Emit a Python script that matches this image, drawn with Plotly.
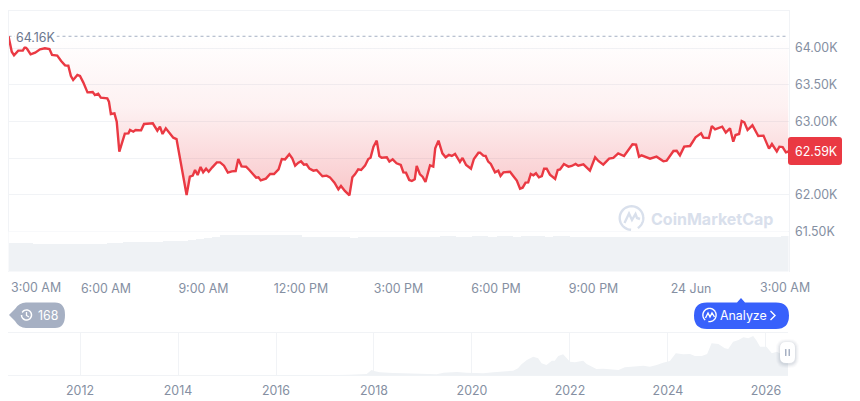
import math
import plotly.graph_objects as go

W, H = 860, 401

# Intraday price: hours after 3:00 AM and price in thousands of USD
hours = [
    0.00, 0.10, 0.17, 0.30, 0.44, 0.51, 0.58, 0.68, 0.82, 0.97, 1.12, 1.26, 1.34, 1.50, 1.62, 1.74, 1.84, 1.92, 1.99, 2.12,
    2.20, 2.30, 2.43, 2.59, 2.66, 2.76, 2.84, 3.04, 3.09, 3.15, 3.26, 3.33, 3.41, 3.58, 3.69, 3.74, 3.84, 3.91, 4.08, 4.17,
    4.44, 4.58, 4.66, 4.74, 4.84, 4.97, 5.07, 5.17, 5.33, 5.48, 5.58, 5.67, 5.74, 5.82, 5.91, 5.99, 6.08, 6.16, 6.27, 6.41,
    6.51, 6.63, 6.75, 6.87, 6.99, 7.07, 7.17, 7.31, 7.41, 7.53, 7.62, 7.69, 7.76, 7.92, 8.05, 8.17, 8.31,
    8.41, 8.51, 8.64, 8.73, 8.82, 8.92, 9.00, 9.09, 9.17, 9.26, 9.38, 9.48, 9.66, 9.79, 9.89, 10.03, 10.15, 10.23, 10.35, 10.49,
    10.58, 10.66, 10.76, 10.85, 10.97, 11.07, 11.14, 11.23, 11.33, 11.41, 11.48, 11.64, 11.72, 11.82, 11.94, 12.07, 12.15, 12.23, 12.33, 12.41,
    12.50, 12.56, 12.66, 12.74, 12.83, 12.97, 13.07, 13.13, 13.23, 13.35, 13.45, 13.55, 13.64, 13.74, 13.89, 13.97, 14.08, 14.23, 14.32, 14.46,
    14.51, 14.61, 14.68, 14.76, 14.84, 14.97, 15.07, 15.14, 15.23, 15.43, 15.53, 15.64, 15.74, 15.82, 15.91, 15.99, 16.07, 16.15, 16.23, 16.32,
    16.41, 16.48, 16.56, 16.66, 16.82, 16.90, 16.97,
    17.09, 17.23, 17.33, 17.45, 17.53, 17.69, 17.89, 18.05, 18.15, 18.30, 18.48, 18.61, 18.76, 18.94, 19.20, 19.31, 19.40, 19.48, 19.74, 19.94,
    20.15, 20.25, 20.46, 20.56, 20.66, 20.79, 20.97, 21.14, 21.31, 21.38, 21.55, 21.64, 21.74, 21.96, 22.07, 22.20, 22.30, 22.37, 22.48, 22.56,
    22.64, 22.74, 22.89, 23.07, 23.23, 23.40, 23.49, 23.64, 23.72, 23.82, 23.92, 24.00,
]
price = [
    64.16, 63.950, 63.900, 63.964, 63.964, 64.018, 63.982, 63.914, 63.937, 63.982, 63.996, 63.987, 63.905, 63.896, 63.823, 63.764, 63.759, 63.619, 63.564, 63.632,
    63.619, 63.532, 63.396, 63.401, 63.360, 63.378, 63.323, 63.314, 63.269, 63.101, 63.110, 62.996, 62.588, 62.833, 62.837, 62.883, 62.860, 62.883, 62.878, 62.965,
    62.974, 62.874, 62.928, 62.828, 62.906, 62.828, 62.778, 62.760, 62.338, 61.997, 62.247, 62.261, 62.338, 62.270, 62.379, 62.306, 62.356, 62.315, 62.374, 62.442,
    62.442, 62.397, 62.302, 62.320, 62.324, 62.488, 62.388, 62.383, 62.338, 62.270, 62.234, 62.238, 62.197, 62.220, 62.283, 62.283, 62.347,
    62.488, 62.483, 62.552, 62.497, 62.397, 62.438, 62.456, 62.411, 62.415, 62.356, 62.329, 62.338, 62.252, 62.261, 62.238, 62.166, 62.075, 62.120, 62.052, 61.993,
    62.238, 62.279, 62.347, 62.338, 62.397, 62.488, 62.506, 62.656, 62.738, 62.529, 62.506, 62.511, 62.452, 62.483, 62.429, 62.406, 62.306, 62.302, 62.202, 62.188,
    62.211, 62.393, 62.279, 62.247, 62.175, 62.402, 62.384, 62.633, 62.738, 62.565, 62.511, 62.543, 62.529, 62.556, 62.447, 62.502, 62.406, 62.356, 62.488, 62.574,
    62.574, 62.533, 62.529, 62.452, 62.420, 62.306, 62.329, 62.256, 62.306, 62.315, 62.256, 62.193, 62.084, 62.097, 62.166, 62.170, 62.284, 62.266, 62.293, 62.238,
    62.256, 62.356, 62.356, 62.275, 62.216, 62.338, 62.347,
    62.420, 62.384, 62.393, 62.420, 62.397, 62.415, 62.329, 62.511, 62.461, 62.411, 62.493, 62.502, 62.565, 62.529, 62.688, 62.683, 62.520, 62.538, 62.493, 62.520,
    62.456, 62.465, 62.597, 62.601, 62.538, 62.656, 62.665, 62.783, 62.838, 62.779, 62.774, 62.938, 62.892, 62.929, 62.847, 62.906, 62.724, 62.815, 62.829, 63.006,
    62.988, 62.883, 62.947, 62.801, 62.806, 62.629, 62.692, 62.592, 62.656, 62.651, 62.579, 62.59,
]
open_price = 64.16
last_price = 62.59
shade_floor = 62.0

# Quarter-hour traded volume, one value per bar
volume = [
    29.2, 29.2, 29.2, 28.2, 28.2, 28.2, 28.2, 28.2, 28.2, 28.2, 28.2, 28.2, 29.2, 29.2, 30.2, 30.2,
    30.2, 30.2, 30.2, 31.2, 31.2, 31.2, 32.0, 33.5, 34.2, 35.5, 36.8, 36.8, 36.8, 36.8, 36.8, 36.8,
    36.8, 36.8, 36.8, 36.8, 35.5, 35.5, 35.5, 35.5, 35.5, 35.0, 34.5, 35.5, 35.5, 35.0, 35.5, 35.5,
    35.0, 35.5, 35.5, 35.0, 35.5, 36.0, 36.0, 35.5, 35.5, 36.0, 36.0, 35.5, 36.0, 36.0, 35.5, 36.0,
    36.0, 36.0, 35.5, 36.0, 36.0, 35.5, 35.5, 35.0, 35.5, 35.5, 35.5, 35.0, 35.5, 35.5, 35.5, 35.0,
    35.5, 35.5, 35.5, 35.5, 35.0, 35.5, 35.5, 35.0, 35.5, 35.5, 35.5, 35.5, 35.5, 35.5, 35.5, 36.5,
]

# Full price history: calendar year and price in thousands of USD
history_year = [
    2010.55, 2012.0, 2013.0, 2014.0, 2015.0, 2016.0, 2017.0, 2017.50, 2017.71, 2017.85, 2017.95, 2018.02, 2018.12, 2018.20, 2018.29, 2018.39,
    2018.60, 2018.87, 2018.94, 2019.28, 2019.42, 2019.55, 2019.69, 2019.89, 2020.06, 2020.23, 2020.44, 2020.64, 2020.84, 2020.94, 2021.01,
    2021.12, 2021.25, 2021.35, 2021.42, 2021.52, 2021.63, 2021.69, 2021.76, 2021.86, 2021.93, 2022.00, 2022.10, 2022.27, 2022.34, 2022.44,
    2022.54, 2022.68, 2022.85, 2022.99, 2023.12, 2023.29, 2023.50, 2023.63, 2023.77, 2023.90, 2024.04, 2024.16, 2024.31, 2024.45, 2024.55,
    2024.69, 2024.80, 2024.89, 2025.03, 2025.16, 2025.23, 2025.33, 2025.44, 2025.54, 2025.64, 2025.74, 2025.81, 2025.88, 2026.01, 2026.12,
    2026.22, 2026.35, 2026.45,
]
history_price = [
    0.01, 0.01, 0.1, 0.8, 0.3, 0.4, 1.0, 2.5, 2.6, 4.7, 17.3, 13.1, 10.0, 10.0, 8.9, 7.9,
    6.8, 5.8, 3.7, 3.7, 8.9, 11.0, 11.0, 8.9, 8.9, 6.8, 10.0, 12.0, 15.2, 22.6, 35.2,
    48.8, 59.3, 54.0, 38.3, 33.0, 46.7, 46.7, 61.4, 66.6, 54.0, 43.6, 41.4, 46.7, 36.2, 27.8,
    20.5, 21.5, 18.3, 17.3, 25.7, 27.8, 31.0, 27.8, 33.0, 40.4, 45.6, 69.8, 66.6, 67.7, 61.4,
    61.4, 67.7, 101.3, 99.2, 85.5, 83.4, 106.6, 111.8, 120.2, 117.0, 124.4, 109.7, 90.8, 90.8, 69.8,
    75.0, 64.5, 57.2,
]

price_ticks = [61.5, 62.0, 62.5, 63.0, 63.5, 64.0]
price_labels = ["61.50K", "62.00K", "", "63.00K", "63.50K", "64.00K"]
time_ticks = [3, 6, 9, 12, 15, 18, 21]
time_labels = ["6:00 AM", "9:00 AM", "12:00 PM", "3:00 PM", "6:00 PM", "9:00 PM", "24 Jun"]
year_ticks = [2012, 2014, 2016, 2018, 2020, 2022, 2024, 2026]

RED = "#ea3943"
GRID = "#f1f3f6"
VOL = "#eff2f5"
TICK = "#858fa2"
FONT = "Inter, Roboto, sans-serif"
TEXT_SIZE = 12.4


def fx(x):
    return x / W


def fy(y):
    return 1 - y / H


def path(cmds):
    """Build an SVG path in figure fractions from pixel-based commands."""
    out = []
    for c in cmds:
        if isinstance(c, str):
            out.append(c)
        else:
            out.append(" ".join(f"{fx(c[i]):.5f},{fy(c[i + 1]):.5f}" for i in range(0, len(c), 2)))
    return " ".join(out)


def round_rect(x0, y0, x1, y1, r):
    return [
        "M", (x0 + r, y0), "L", (x1 - r, y0), "Q", (x1, y0, x1, y0 + r), "L", (x1, y1 - r),
        "Q", (x1, y1, x1 - r, y1), "L", (x0 + r, y1), "Q", (x0, y1, x0, y1 - r), "L", (x0, y0 + r),
        "Q", (x0, y0, x0 + r, y0), "Z",
    ]


def arc(cx, cy, r, a0, a1, n=28):
    pts = []
    for i in range(n + 1):
        a = math.radians(a0 + (a1 - a0) * i / n)
        pts.append((cx + r * math.cos(a), cy + r * math.sin(a)))
    cmds = ["M", pts[0]]
    for p in pts[1:]:
        cmds += ["L", p]
    return cmds


def polyline(pts):
    cmds = ["M", pts[0]]
    for p in pts[1:]:
        cmds += ["L", p]
    return cmds


def solid(cmds, color):
    return dict(type="path", xref="paper", yref="paper", path=path(cmds), fillcolor=color,
                line=dict(width=0), layer="above")


def stroke(cmds, color, width):
    return dict(type="path", xref="paper", yref="paper", path=path(cmds), fillcolor="rgba(0,0,0,0)",
                line=dict(color=color, width=width), layer="above")


def rule(x0, y0, x1, y1, color=GRID):
    return dict(type="line", xref="paper", yref="paper", x0=fx(x0), y0=fy(y0), x1=fx(x1), y1=fy(y1),
                line=dict(color=color, width=1), layer="below")


def label(x, y, text, size=TEXT_SIZE, color=TICK, anchor="center", **kw):
    return dict(xref="paper", yref="paper", x=fx(x), y=fy(y), text=text, showarrow=False,
                xanchor=anchor, yanchor="middle", font=dict(family=FONT, size=size, color=color), **kw)


fig = go.Figure()

# Price line, shaded up to the opening price
fig.add_trace(go.Scatter(x=[0, 24], y=[open_price, open_price], mode="lines",
                         line=dict(color="#a6b0c3", width=1, dash="dot"), hoverinfo="skip"))
fig.add_trace(go.Scatter(
    x=hours, y=price, mode="lines", line=dict(color=RED, width=2.4),
    fill="tonexty",
    fillgradient=dict(type="vertical", start=open_price, stop=shade_floor,
                      colorscale=[[0, "rgba(234,57,67,0.0)"], [0.45, "rgba(234,57,67,0.07)"],
                                  [1, "rgba(234,57,67,0.28)"]]),
    fillcolor="rgba(234,57,67,0.1)",
))

fig.add_trace(go.Bar(x=[i * 0.25 + 0.125 for i in range(len(volume))], y=volume, width=0.25,
                     marker=dict(color=VOL, line=dict(width=0)), xaxis="x", yaxis="y2"))

fig.add_trace(go.Scatter(x=history_year, y=history_price, mode="lines", line=dict(width=0, color=VOL),
                         fill="tozeroy", fillcolor=VOL, xaxis="x2", yaxis="y3"))

axis_font = dict(family=FONT, size=TEXT_SIZE, color=TICK)

shapes = [
    rule(8, 10.5, 789, 10.5),
    rule(8, 332.5, 788, 332.5),
    rule(8, 375.5, 788, 375.5),
    # Last-price tag
    solid(round_rect(788, 137, 842, 165, 3), RED),
    # History counter pill
    solid(["M", (9, 315), "L", (15, 309), "Q", (19, 302.5, 26, 302.5), "L", (55, 302.5),
           "Q", (65, 302.5, 65, 315), "Q", (65, 328, 55, 328), "L", (26, 328),
           "Q", (19, 328, 15, 321), "Z"], "#a6b0c3"),
    stroke(arc(26.5, 315, 5, -150, 180), "#ffffff", 1.5),
    stroke(polyline([(26.5, 312), (26.5, 315.5), (29, 317)]), "#ffffff", 1.3),
    # Analyze button
    solid(["M", (707, 302.5), "L", (737, 302.5), "L", (741, 298), "L", (745, 302.5), "L", (776, 302.5),
           "Q", (789, 302.5, 789, 315.5), "Q", (789, 329, 776, 329), "L", (707, 329),
           "Q", (694, 329, 694, 315.5), "Q", (694, 302.5, 707, 302.5), "Z"], "#3861fb"),
    stroke(arc(709.5, 315, 6.6, -30, 100), "#ffffff", 1.4),
    stroke(arc(709.5, 315, 6.6, 130, 330), "#ffffff", 1.4),
    stroke(polyline([(705.5, 318), (708, 313), (710, 317), (712, 313), (714.5, 317)]), "#ffffff", 1.4),
    stroke(polyline([(770.5, 311), (775, 315.5), (770.5, 320)]), "#ffffff", 1.4),
    # Watermark logo
    stroke(arc(631.5, 218, 11.8, -5, 58) + arc(631.5, 218, 11.8, 92, 355), "#d9e0ec", 2.4),
    stroke(polyline([(624.5, 223), (629, 213.5), (632, 220), (635.5, 214), (637, 218), (640, 219)]), "#d9e0ec", 2.4),
]

# Range handle with its soft shadow
for grow, alpha in ((4, 0.03), (3, 0.04), (2, 0.05), (1, 0.07)):
    shapes.append(solid(round_rect(780 - grow, 342 - grow + 1, 795 + grow, 363 + grow + 1, 6 + grow),
                        f"rgba(88,102,126,{alpha})"))
shapes += [
    solid(round_rect(780, 342, 795, 363, 6), "#ffffff"),
    solid(round_rect(785, 349, 786.5, 356, 0.5), "#a6b0c3"),
    solid(round_rect(788.5, 349, 790, 356, 0.5), "#a6b0c3"),
]

annotations = [
    label(14, 37.5, "64.16K", color="#6b778e", anchor="left", bgcolor="#ffffff", borderpad=1),
    label(816, 151.5, "62.59K", color="#ffffff"),
    label(8.5, 287.5, "3:00 AM", anchor="left"),
    label(811.5, 287.5, "3:00 AM", anchor="right"),
    label(48, 315.5, "168", color="#ffffff"),
    label(743, 315.5, "Analyze", color="#ffffff"),
    label(712, 218.5, "<b>CoinMarketCap</b>", size=16, color="#d9e0ec"),
]

fig.update_layout(
    width=W, height=H, margin=dict(l=0, r=0, t=0, b=0), paper_bgcolor="#ffffff", plot_bgcolor="#ffffff",
    showlegend=False, barmode="overlay", bargap=0, hovermode=False,
    xaxis=dict(domain=[fx(8.5), fx(788.5)], range=[0, 24], tickvals=time_ticks, ticktext=time_labels,
               showgrid=False, zeroline=False, ticks="outside", ticklen=6, tickcolor="rgba(0,0,0,0)",
               tickfont=axis_font, anchor="y2"),
    yaxis=dict(domain=[fy(271.5), fy(10)], range=[60.955, 64.518], side="right", anchor="x",
               tickvals=price_ticks, ticktext=price_labels, tickfont=axis_font, gridcolor=GRID, gridwidth=1,
               zeroline=False, showline=True, mirror=True, linecolor=GRID, linewidth=1,
               ticks="outside", ticklen=3, tickcolor="rgba(0,0,0,0)"),
    yaxis2=dict(domain=[fy(271.5), fy(231.5)], range=[0, 40], showgrid=False, zeroline=False,
                showticklabels=False, anchor="x"),
    xaxis2=dict(domain=[fx(8), fx(788)], range=[2010.53, 2026.45], anchor="y3", tickvals=year_ticks,
                tickfont=axis_font, showgrid=True, gridcolor=GRID, zeroline=False,
                ticks="outside", ticklen=4, tickcolor="rgba(0,0,0,0)"),
    yaxis3=dict(domain=[fy(375.5), fy(332.5)], range=[0, 135.5], showgrid=False, zeroline=False,
                showticklabels=False, anchor="x2"),
    shapes=shapes, annotations=annotations,
)

fig.write_html("out.html", config=dict(displayModeBar=False))
